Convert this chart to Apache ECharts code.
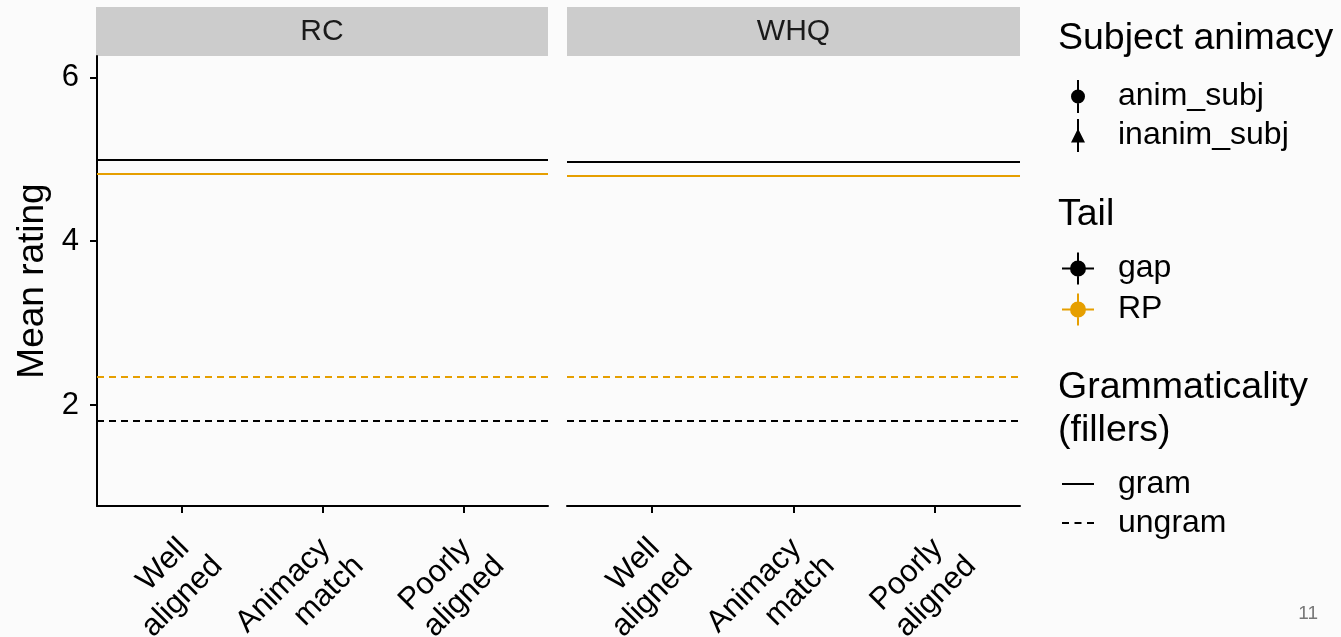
<!DOCTYPE html>
<html>
<head>
<meta charset="utf-8">
<script src="https://cdn.jsdelivr.net/npm/echarts@6/dist/echarts.min.js"></script>
<style>
  html, body { margin: 0; padding: 0; background: #fbfbfb; }
  #chart { width: 1341px; height: 637px; }
</style>
</head>
<body>
<div id="chart"></div>
<script>
// Facets and x categories (two lines per label)
const panels = ['RC', 'WHQ'];
const alignment = [['Well', 'aligned'], ['Animacy', 'match'], ['Poorly', 'aligned']];
const alignmentPos = [1, 2, 3];
const yTicks = [2, 4, 6];

// Filler reference means, one value per facet [RC, WHQ]
const gapGram = [4.99, 4.975];
const rpGram = [4.815, 4.805];
const rpUngram = [2.355, 2.355];
const gapUngram = [1.815, 1.815];

// Legend levels
const animacyLevels = ['anim_subj', 'inanim_subj'];
const tailLevels = ['gap', 'RP'];
const gramLevels = ['gram', 'ungram'];
const pageNumber = '11';

const FONT = 'Liberation Sans, Arial, Helvetica, sans-serif';
const BLACK = '#000000';
const ORANGE = '#E69F00';
const tailColors = { gap: BLACK, RP: ORANGE };

// Panel layout
const gridBoxes = [
  { left: 97, top: 56, width: 451, height: 450 },
  { left: 567, top: 56, width: 453, height: 450 }
];
const stripTop = 7;

const chart = echarts.init(document.getElementById('chart'));

const grids = gridBoxes.map(b => ({
  left: b.left, top: b.top, width: b.width, height: b.height,
  containLabel: false, outerBoundsMode: 'none'
}));

const tickFont = { fontSize: 31, lineHeight: 36, fontFamily: FONT, color: BLACK };

const xAxes = panels.map((p, i) => ({
  type: 'value',
  gridIndex: i,
  min: 0.4,
  max: 3.6,
  splitLine: { show: false },
  axisLine: { show: true, lineStyle: { color: BLACK, width: 2 } },
  axisTick: { show: true, customValues: alignmentPos, length: 7, lineStyle: { color: BLACK, width: 2 } },
  axisLabel: {
    customValues: alignmentPos,
    formatter: v => {
      const lines = alignment[Math.round(v) - 1];
      return '{a|' + lines[0] + '}\n{b|' + lines[1] + '}';
    },
    rotate: 45,
    align: 'right',
    verticalAlign: 'top',
    margin: 15,
    padding: [0, 3, 0, 0],
    fontSize: 31,
    lineHeight: 36,
    fontFamily: FONT,
    color: BLACK,
    rich: {
      a: Object.assign({ padding: [0, 11, 0, 0] }, tickFont),
      b: Object.assign({}, tickFont)
    }
  }
}));

const yAxes = panels.map((p, i) => ({
  type: 'value',
  gridIndex: i,
  min: 0.77,
  max: 6.26,
  splitLine: { show: false },
  axisLine: { show: i === 0, lineStyle: { color: BLACK, width: 2 } },
  axisTick: { show: i === 0, customValues: yTicks, length: 7, lineStyle: { color: BLACK, width: 2 } },
  axisLabel: {
    show: i === 0,
    customValues: yTicks,
    margin: 18,
    fontSize: 31,
    fontFamily: FONT,
    color: BLACK
  },
  name: i === 0 ? 'Mean rating' : '',
  nameLocation: 'middle',
  nameRotate: 90,
  nameGap: 46,
  nameTextStyle: { fontSize: 37, fontFamily: FONT, color: BLACK }
}));

const series = [];

// Point series (legend entries for the point/range marks)
series.push({ name: animacyLevels[0], type: 'scatter', xAxisIndex: 0, yAxisIndex: 0, symbol: 'circle', itemStyle: { color: BLACK, opacity: 1 }, data: [] });
series.push({ name: animacyLevels[1], type: 'scatter', xAxisIndex: 0, yAxisIndex: 0, symbol: 'triangle', itemStyle: { color: BLACK, opacity: 1 }, data: [] });
tailLevels.forEach(t => {
  series.push({ name: t, type: 'scatter', xAxisIndex: 0, yAxisIndex: 0, symbol: 'circle', itemStyle: { color: tailColors[t], opacity: 1 }, data: [] });
});

// Filler reference lines per facet
panels.forEach((p, i) => {
  const common = {
    type: 'line', xAxisIndex: i, yAxisIndex: i, data: [], itemStyle: { color: BLACK }, lineStyle: { color: BLACK }
  };
  series.push(Object.assign({}, common, {
    name: gramLevels[0],
    markLine: {
      silent: true, symbol: 'none', label: { show: false }, animation: false,
      data: [
        { yAxis: rpGram[i], lineStyle: { color: ORANGE, width: 2.2, type: 'solid' } },
        { yAxis: gapGram[i], lineStyle: { color: BLACK, width: 2.2, type: 'solid' } }
      ]
    }
  }));
  series.push(Object.assign({}, common, {
    name: gramLevels[1],
    markLine: {
      silent: true, symbol: 'none', label: { show: false }, animation: false,
      data: [
        { yAxis: rpUngram[i], lineStyle: { color: ORANGE, width: 2, type: [7, 5] } },
        { yAxis: gapUngram[i], lineStyle: { color: BLACK, width: 2, type: [7, 5] } }
      ]
    }
  }));
});

// Legend glyphs
const ICON_PT_RANGE = 'path://M9,0 h2 v33 h-2 Z M3,16.5 a7,7 0 1,1 14,0 a7,7 0 1,1 -14,0 Z';
const ICON_TRI_RANGE = 'path://M9,0 h2 v33 h-2 Z M3,23.5 L10,9.5 L17,23.5 Z';
const ICON_CROSS_PT = 'path://M0,15 h32 v2 h-32 Z M15,0 h2 v32 h-2 Z M8,16 a8,8 0 1,1 16,0 a8,8 0 1,1 -16,0 Z';
const ICON_SOLID = 'path://M0,0 h32 v2 h-32 Z';
const ICON_DASHED = 'path://M0,0 h7 v2 h-7 Z M12.5,0 h7 v2 h-7 Z M25,0 h7 v2 h-7 Z';

const legendText = (padLeft) => ({
  fontSize: 32, fontFamily: FONT, color: BLACK, lineHeight: 33, padding: [0, 0, 0, padLeft]
});

const legendBase = {
  orient: 'vertical', selectedMode: false, symbolKeepAspect: false, padding: 0,
  itemStyle: { borderWidth: 0, opacity: 1 }
};

const legends = [
  Object.assign({}, legendBase, {
    left: 1071, top: 80, itemWidth: 14, itemHeight: 33, itemGap: 6,
    textStyle: legendText(28),
    data: [
      { name: animacyLevels[0], icon: ICON_PT_RANGE },
      { name: animacyLevels[1], icon: ICON_TRI_RANGE }
    ]
  }),
  Object.assign({}, legendBase, {
    left: 1062, top: 252, itemWidth: 32, itemHeight: 32, itemGap: 8,
    textStyle: legendText(19),
    data: tailLevels.map(t => ({ name: t, icon: ICON_CROSS_PT }))
  }),
  Object.assign({}, legendBase, {
    left: 1062, top: 467.5, itemWidth: 32, itemHeight: 2, itemGap: 6,
    textStyle: legendText(19),
    data: [
      { name: gramLevels[0], icon: ICON_SOLID },
      { name: gramLevels[1], icon: ICON_DASHED }
    ]
  })
];

// Facet strips, legend titles and page number
const graphics = [];
panels.forEach((p, i) => {
  const b = gridBoxes[i];
  const x0 = i === 0 ? b.left - 1 : b.left;
  const w = i === 0 ? b.width + 1 : b.width;
  graphics.push({
    type: 'rect', silent: true,
    shape: { x: x0, y: stripTop, width: w, height: b.top - stripTop },
    style: { fill: '#CCCCCC' }
  });
  graphics.push({
    type: 'text', silent: true, x: x0 + w / 2, y: (stripTop + b.top) / 2,
    style: { text: p, fontSize: 30, fontFamily: FONT, fill: '#1A1A1A', align: 'center', verticalAlign: 'middle' }
  });
});
const titleStyle = { fontSize: 37.5, fontFamily: FONT, fill: BLACK, align: 'left', verticalAlign: 'middle', lineHeight: 43 };
graphics.push({ type: 'text', silent: true, x: 1058, y: 39, style: Object.assign({ text: 'Subject animacy' }, titleStyle) });
graphics.push({ type: 'text', silent: true, x: 1058, y: 215, style: Object.assign({ text: 'Tail' }, titleStyle) });
graphics.push({ type: 'text', silent: true, x: 1058, y: 409, style: Object.assign({ text: 'Grammaticality\n(fillers)' }, titleStyle) });
graphics.push({
  type: 'text', silent: true, x: 1318, y: 614,
  style: { text: pageNumber, fontSize: 19, fontFamily: FONT, fill: '#777777', align: 'right', verticalAlign: 'middle' }
});

chart.setOption({
  backgroundColor: '#fbfbfb',
  animation: false,
  grid: grids,
  xAxis: xAxes,
  yAxis: yAxes,
  legend: legends,
  series: series,
  graphic: graphics
});
</script>
</body>
</html>
